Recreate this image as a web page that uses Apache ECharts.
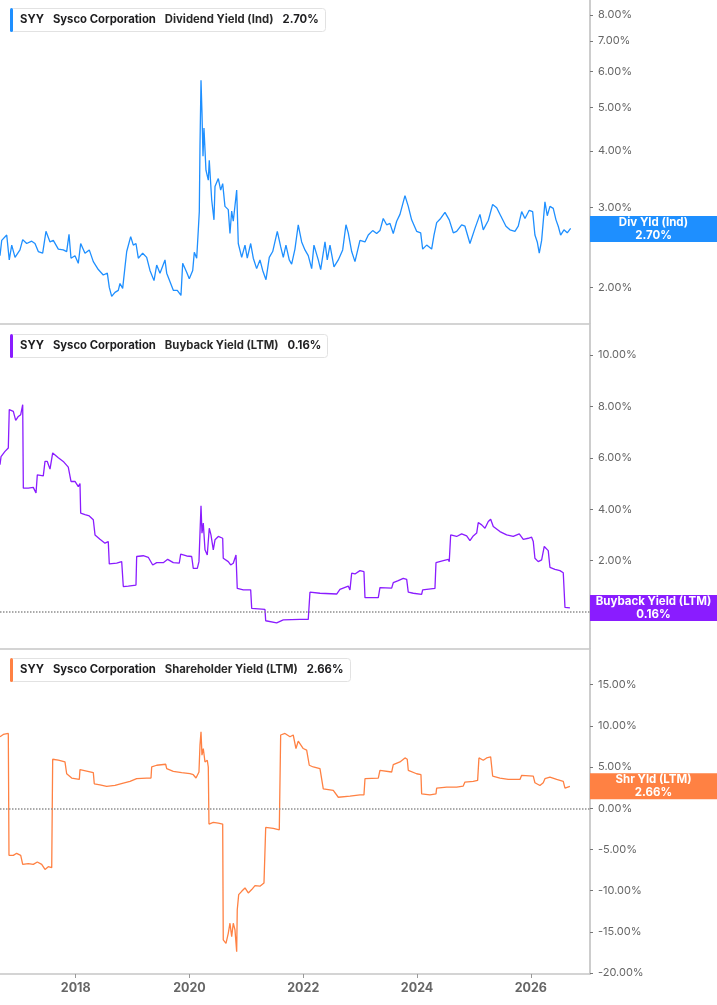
<!DOCTYPE html>
<html>
<head>
<meta charset="utf-8">
<script src="https://cdn.jsdelivr.net/npm/echarts@6/dist/echarts.min.js"></script>
<style>
  html, body { margin: 0; padding: 0; background: #fff; }
  #chart { width: 717px; height: 1005px; }
</style>
</head>
<body>
<div id="chart"></div>
<script>
// [decimal year, %]
var divYield = [
  [2016.670,2.35],[2016.700,2.54],[2016.788,2.61],[2016.816,2.60],[2016.833,2.30],[2016.876,2.48],[2016.934,2.33],
  [2017.021,2.42],[2017.069,2.55],[2017.139,2.50],[2017.227,2.53],[2017.285,2.50],[2017.343,2.40],[2017.420,2.38],
  [2017.478,2.66],[2017.549,2.52],[2017.607,2.54],[2017.695,2.43],[2017.782,2.42],[2017.842,2.40],[2017.883,2.62],
  [2017.918,2.32],[2017.988,2.35],[2018.046,2.26],[2018.088,2.50],[2018.164,2.38],[2018.239,2.42],[2018.310,2.28],
  [2018.398,2.19],[2018.485,2.13],[2018.556,2.15],[2018.591,2.00],[2018.633,1.91],[2018.691,1.95],[2018.749,1.97],
  [2018.779,2.04],[2018.826,1.99],[2018.867,2.22],[2018.897,2.40],[2018.967,2.59],[2019.013,2.48],[2019.060,2.50],
  [2019.101,2.32],[2019.178,2.38],[2019.248,2.33],[2019.306,2.18],[2019.377,2.07],[2019.424,2.24],[2019.482,2.15],
  [2019.570,2.30],[2019.600,2.15],[2019.670,2.04],[2019.716,1.97],[2019.786,1.97],[2019.851,1.92],[2019.881,2.26],
  [2019.951,2.16],[2019.997,2.09],[2020.057,2.18],[2020.085,2.39],[2020.127,2.32],[2020.155,2.67],[2020.173,2.94],
  [2020.185,4.10],[2020.203,5.74],[2020.220,4.86],[2020.238,3.90],[2020.255,4.50],[2020.290,3.63],[2020.331,3.45],
  [2020.348,3.82],[2020.391,3.12],[2020.431,2.82],[2020.449,3.34],[2020.507,3.48],[2020.549,3.28],[2020.584,3.39],
  [2020.624,3.02],[2020.682,2.97],[2020.712,2.63],[2020.742,2.95],[2020.770,2.80],[2020.830,3.28],[2020.858,2.50],
  [2020.918,2.33],[2020.976,2.48],[2021.016,2.32],[2021.076,2.50],[2021.122,2.32],[2021.181,2.20],[2021.239,2.30],
  [2021.287,2.18],[2021.345,2.08],[2021.403,2.33],[2021.463,2.40],[2021.544,2.66],[2021.603,2.46],[2021.649,2.33],
  [2021.696,2.48],[2021.754,2.30],[2021.796,2.25],[2021.854,2.43],[2021.912,2.75],[2021.972,2.52],[2022.030,2.42],
  [2022.088,2.35],[2022.148,2.20],[2022.188,2.48],[2022.264,2.30],[2022.306,2.19],[2022.382,2.52],[2022.422,2.30],
  [2022.470,2.48],[2022.540,2.22],[2022.616,2.30],[2022.693,2.42],[2022.751,2.75],[2022.791,2.64],[2022.851,2.40],
  [2022.909,2.28],[2022.997,2.54],[2023.085,2.52],[2023.143,2.61],[2023.220,2.67],[2023.290,2.63],[2023.348,2.67],
  [2023.406,2.84],[2023.466,2.75],[2023.524,2.77],[2023.582,2.63],[2023.642,2.80],[2023.700,2.90],[2023.788,3.19],
  [2023.846,3.02],[2023.905,2.82],[2023.993,2.66],[2024.064,2.64],[2024.099,2.43],[2024.169,2.48],[2024.257,2.43],
  [2024.298,2.61],[2024.345,2.78],[2024.415,2.84],[2024.491,2.93],[2024.566,2.82],[2024.637,2.64],[2024.696,2.66],
  [2024.784,2.75],[2024.842,2.73],[2024.930,2.50],[2025.018,2.70],[2025.106,2.90],[2025.164,2.68],[2025.252,2.81],
  [2025.329,3.05],[2025.400,3.00],[2025.470,2.88],[2025.563,2.73],[2025.633,2.68],[2025.721,2.66],[2025.779,2.73],
  [2025.839,2.94],[2025.897,2.84],[2025.972,2.96],[2026.032,2.94],[2026.072,2.61],[2026.113,2.52],[2026.148,2.38],
  [2026.190,2.54],[2026.248,3.09],[2026.289,2.88],[2026.336,3.02],[2026.394,2.99],[2026.442,2.82],[2026.482,2.73],
  [2026.524,2.61],[2026.582,2.68],[2026.640,2.64],[2026.700,2.70]
];

var buybackYield = [
  [2016.670,5.73],[2016.688,6.05],[2016.758,6.25],[2016.816,6.38],[2016.833,7.88],[2016.904,7.81],[2016.946,7.46],
  [2016.992,7.61],[2017.034,7.68],[2017.069,8.07],[2017.080,4.82],[2017.167,4.82],[2017.255,4.85],[2017.303,4.63],
  [2017.326,5.34],[2017.431,5.30],[2017.461,5.86],[2017.501,5.86],[2017.549,5.56],[2017.596,6.19],[2017.695,6.00],
  [2017.782,5.86],[2017.870,5.64],[2017.918,5.08],[2017.988,5.08],[2018.046,4.88],[2018.076,5.00],[2018.088,3.85],
  [2018.164,3.79],[2018.239,3.74],[2018.310,3.59],[2018.340,3.00],[2018.427,2.83],[2018.515,2.68],[2018.573,2.74],
  [2018.591,1.87],[2018.721,1.90],[2018.809,1.96],[2018.837,0.99],[2018.925,1.01],[2019.060,1.05],[2019.072,2.16],
  [2019.188,2.19],[2019.276,2.13],[2019.354,1.83],[2019.424,1.92],[2019.540,1.92],[2019.617,2.05],[2019.716,1.92],
  [2019.821,1.90],[2019.846,2.25],[2019.951,2.18],[2020.039,2.16],[2020.067,1.70],[2020.138,1.70],[2020.167,1.96],
  [2020.185,3.07],[2020.203,4.13],[2020.220,3.07],[2020.243,3.46],[2020.273,2.42],[2020.313,2.22],[2020.348,3.26],
  [2020.378,3.00],[2020.419,2.42],[2020.449,2.81],[2020.507,2.94],[2020.584,2.87],[2020.594,2.09],[2020.682,1.96],
  [2020.724,1.83],[2020.770,1.90],[2020.818,2.22],[2020.840,0.92],[2020.946,0.86],[2021.076,0.86],[2021.094,0.14],
  [2021.327,0.10],[2021.340,-0.34],[2021.533,-0.42],[2021.649,-0.31],[2021.942,-0.29],[2022.088,-0.29],[2022.118,0.77],
  [2022.294,0.73],[2022.587,0.70],[2022.645,0.88],[2022.791,1.01],[2022.821,0.86],[2022.851,1.51],[2022.909,1.48],
  [2022.997,1.61],[2023.067,1.57],[2023.085,0.56],[2023.319,0.56],[2023.348,0.95],[2023.554,0.93],[2023.582,1.14],
  [2023.670,1.22],[2023.758,1.31],[2023.818,1.27],[2023.846,0.77],[2023.934,0.73],[2024.081,0.69],[2024.099,0.86],
  [2024.315,0.92],[2024.333,1.92],[2024.461,2.00],[2024.549,2.05],[2024.566,1.96],[2024.591,3.00],[2024.696,2.94],
  [2024.784,3.04],[2024.872,2.96],[2024.930,2.78],[2024.988,2.96],[2025.048,3.07],[2025.076,3.48],[2025.136,3.39],
  [2025.194,3.26],[2025.252,3.52],[2025.294,3.61],[2025.340,3.33],[2025.457,3.13],[2025.575,3.00],[2025.691,2.94],
  [2025.797,3.04],[2025.867,2.83],[2025.955,2.87],[2026.014,2.91],[2026.043,2.74],[2026.072,2.09],[2026.130,1.96],
  [2026.190,2.03],[2026.236,2.55],[2026.306,2.39],[2026.336,1.74],[2026.424,1.66],[2026.512,1.61],[2026.570,1.53],
  [2026.600,0.18],[2026.687,0.16]
];

var shareholderYield = [
  [2016.670,8.68],[2016.728,8.96],[2016.816,9.08],[2016.828,-5.71],[2016.904,-5.71],[2016.963,-5.46],[2017.034,-5.71],
  [2017.069,-6.81],[2017.167,-6.70],[2017.255,-6.81],[2017.326,-6.52],[2017.403,-6.81],[2017.461,-7.42],[2017.519,-7.09],
  [2017.579,-7.21],[2017.596,5.95],[2017.695,5.83],[2017.812,5.62],[2017.842,4.19],[2017.930,3.67],[2018.064,3.50],
  [2018.076,4.69],[2018.194,4.52],[2018.310,4.32],[2018.327,2.97],[2018.427,2.85],[2018.545,2.65],[2018.691,2.77],
  [2018.837,3.06],[2018.955,3.26],[2019.072,3.59],[2019.101,3.79],[2019.248,3.67],[2019.324,3.67],[2019.336,5.01],
  [2019.424,5.22],[2019.582,5.34],[2019.600,4.81],[2019.716,4.48],[2019.863,4.32],[2020.009,4.20],[2020.067,4.07],
  [2020.115,3.67],[2020.167,4.40],[2020.185,7.66],[2020.203,9.29],[2020.220,6.44],[2020.243,7.25],[2020.273,5.62],
  [2020.313,5.83],[2020.331,5.01],[2020.343,-1.91],[2020.419,-1.71],[2020.507,-1.79],[2020.584,-1.91],[2020.594,-15.97],
  [2020.642,-16.38],[2020.682,-15.16],[2020.712,-13.94],[2020.742,-15.57],[2020.770,-13.94],[2020.800,-14.75],
  [2020.830,-17.40],[2020.840,-12.30],[2020.865,-10.48],[2020.918,-10.07],[2020.976,-9.66],[2021.034,-10.27],
  [2021.094,-9.86],[2021.152,-9.37],[2021.239,-9.45],[2021.310,-9.05],[2021.340,-2.32],[2021.473,-2.44],[2021.579,-2.61],
  [2021.603,8.89],[2021.679,9.08],[2021.767,8.68],[2021.824,8.89],[2021.872,7.25],[2021.912,8.15],[2021.942,8.15],
  [2022.000,7.25],[2022.060,7.05],[2022.106,5.22],[2022.176,5.01],[2022.294,4.81],[2022.352,2.36],[2022.528,2.16],
  [2022.616,1.34],[2022.821,1.47],[2022.997,1.63],[2023.067,1.63],[2023.085,3.59],[2023.319,3.67],[2023.348,4.61],
  [2023.554,4.40],[2023.582,5.30],[2023.700,5.62],[2023.788,6.11],[2023.828,5.95],[2023.846,4.61],[2023.993,4.19],
  [2024.069,4.07],[2024.081,1.75],[2024.227,1.63],[2024.333,1.75],[2024.345,2.44],[2024.521,2.57],[2024.696,2.57],
  [2024.812,2.69],[2024.842,3.18],[2024.988,3.26],[2025.065,3.39],[2025.088,6.11],[2025.164,5.83],[2025.223,6.11],
  [2025.294,6.23],[2025.329,3.91],[2025.457,3.67],[2025.603,3.50],[2025.809,3.50],[2025.839,4.00],[2026.043,3.91],
  [2026.072,3.10],[2026.160,2.77],[2026.218,3.10],[2026.248,3.59],[2026.336,3.79],[2026.454,3.50],[2026.570,3.26],
  [2026.600,2.44],[2026.687,2.66]
];

var yearTicks = [2018, 2020, 2022, 2024, 2026];
var divTicks = [2, 3, 4, 5, 6, 7, 8];
var buybackTicks = [0, 2, 4, 6, 8, 10];
var shareholderTicks = [-20, -15, -10, -5, 0, 5, 10, 15];

var divLast = 2.70;
var buybackLast = 0.16;
var shareholderLast = 2.66;

var BLUE = '#1e8fff';
var PURPLE = '#8a1cff';
var ORANGE = '#ff8143';

var chart = echarts.init(document.getElementById('chart'));

// top panel is log scaled: plot log10 of the yield on a plain value axis
var divLog = divYield.map(function (p) { return [p[0], Math.log10(p[1])]; });

function pct(v) { return v.toFixed(2) + '%'; }

function makeTitle(top, color, metric, value) {
    return {
        left: 10,
        top: top,
        padding: [0, 7, 0, 0],
        backgroundColor: '#fff',
        borderColor: '#e2e2e2',
        borderWidth: 1,
        borderRadius: 3,
        text: '{bar|}{f|SYY}{s|Sysco Corporation}{n|' + metric + '}{s|' + value + '}',
        textStyle: {
            rich: {
                bar: { width: 3, height: 24, backgroundColor: color, borderRadius: 2 },
                f: { fontWeight: 'bold', fontSize: 11.3, color: '#1d1d1f', padding: [0, 0, 0, 7] },
                s: { fontWeight: 'bold', fontSize: 11.3, color: '#1d1d1f', padding: [0, 0, 0, 9] },
                n: { fontSize: 11.3, color: '#2a2a2a', padding: [0, 0, 0, 9] }
            }
        }
    };
}

function makeX(idx, showLabels) {
    return {
        type: 'value',
        gridIndex: idx,
        min: 2016.67,
        max: 2027.04,
        splitLine: { show: false },
        axisLine: { show: true, onZero: false, lineStyle: { color: '#c6c6c6', width: 1.5 } },
        axisTick: { show: showLabels, length: 4, customValues: yearTicks, lineStyle: { color: '#999' } },
        axisLabel: {
            show: showLabels,
            customValues: yearTicks,
            formatter: function (v) { return String(Math.round(v)); },
            color: '#666',
            fontWeight: 'bold',
            fontSize: 12.5,
            margin: 8
        }
    };
}

function makeY(idx, min, max, ticks, formatter) {
    return {
        type: 'value',
        gridIndex: idx,
        position: 'right',
        min: min,
        max: max,
        splitLine: { show: false },
        axisLine: { show: true, onZero: false, lineStyle: { color: '#bdbdbd', width: 1.5 } },
        axisTick: { show: true, length: 3, customValues: ticks, lineStyle: { color: '#777' } },
        axisLabel: { customValues: ticks, formatter: formatter, color: '#666', fontSize: 11, margin: 8 }
    };
}

// coloured value box sitting on the right axis at the last value
function endMark(color, name, value) {
    return {
        yAxis: value,
        lineStyle: { color: 'rgba(0,0,0,0)', width: 0 },
        label: {
            show: true,
            position: 'end',
            distance: 0,
            backgroundColor: color,
            padding: 0,
            formatter: '{t|' + name + '}\n{t|' + pct(value.raw !== undefined ? value.raw : value) + '}',
            rich: {
                t: { width: 127, align: 'center', color: '#fff', fontWeight: 'bold', fontSize: 11.5, lineHeight: 13 }
            }
        }
    };
}

var zeroLine = {
    yAxis: 0,
    lineStyle: { type: 'dotted', color: '#8f8f8f', width: 1.5 },
    label: { show: false }
};

var divMark = endMark(BLUE, 'Div Yld (Ind)', divLast);
divMark.yAxis = Math.log10(divLast);

var option = {
    animation: false,
    textStyle: { fontFamily: 'Inter, Roboto, sans-serif' },
    title: [
        makeTitle(8, BLUE, 'Dividend Yield (Ind)', pct(divLast)),
        makeTitle(334, PURPLE, 'Buyback Yield (LTM)', pct(buybackLast)),
        makeTitle(658, ORANGE, 'Shareholder Yield (LTM)', pct(shareholderLast))
    ],
    grid: [
        { left: 0, top: 0, width: 590, height: 324 },
        { left: 0, top: 325, width: 590, height: 324 },
        { left: 0, top: 650, width: 590, height: 324 }
    ],
    xAxis: [makeX(0, false), makeX(1, false), makeX(2, true)],
    yAxis: [
        makeY(0, Math.log10(1.66), Math.log10(8.63), divTicks.map(Math.log10),
              function (v) { return pct(Math.pow(10, v)); }),
        makeY(1, -1.44, 11.17, buybackTicks, pct),
        makeY(2, -20.1, 19.2, shareholderTicks, pct)
    ],
    series: [
        {
            type: 'line',
            xAxisIndex: 0,
            yAxisIndex: 0,
            data: divLog,
            clip: false,
            showSymbol: false,
            lineStyle: { color: BLUE, width: 1.3 },
            itemStyle: { color: BLUE },
            markLine: { silent: true, symbol: 'none', data: [divMark] }
        },
        {
            type: 'line',
            xAxisIndex: 1,
            yAxisIndex: 1,
            data: buybackYield,
            clip: false,
            showSymbol: false,
            lineStyle: { color: PURPLE, width: 1.3 },
            itemStyle: { color: PURPLE },
            markLine: {
                silent: true,
                symbol: 'none',
                data: [zeroLine, endMark(PURPLE, 'Buyback Yield (LTM)', buybackLast)]
            }
        },
        {
            type: 'line',
            xAxisIndex: 2,
            yAxisIndex: 2,
            data: shareholderYield,
            clip: false,
            showSymbol: false,
            lineStyle: { color: ORANGE, width: 1.3 },
            itemStyle: { color: ORANGE },
            markLine: {
                silent: true,
                symbol: 'none',
                data: [zeroLine, endMark(ORANGE, 'Shr Yld (LTM)', shareholderLast)]
            }
        }
    ]
};

chart.setOption(option);
</script>
</body>
</html>
